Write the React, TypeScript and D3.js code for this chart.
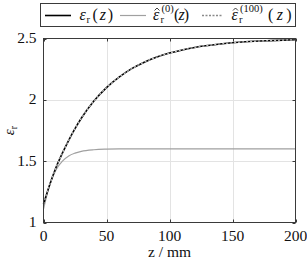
import * as d3 from "d3";

// sample positions along z (mm) and curve values
const zValues = [0, 5, 10, 15, 20, 25, 30, 40, 50, 60, 70, 80, 90, 100, 120, 140, 160, 180, 200];
const epsTrue = [1.15, 1.31, 1.45, 1.565, 1.67, 1.765, 1.85, 1.99, 2.1, 2.185, 2.254, 2.307, 2.349, 2.381, 2.427, 2.455, 2.473, 2.483, 2.49];
const epsIter0 = [1.11, 1.31, 1.43, 1.5, 1.543, 1.566, 1.58, 1.593, 1.598, 1.6, 1.6, 1.6, 1.6, 1.6, 1.6, 1.6, 1.6, 1.6, 1.6];
const epsIter100 = [1.15, 1.31, 1.45, 1.565, 1.67, 1.765, 1.85, 1.99, 2.1, 2.185, 2.254, 2.307, 2.349, 2.381, 2.427, 2.455, 2.473, 2.483, 2.49];

const xTicks = [0, 50, 100, 150, 200];
const yTicks = [1, 1.5, 2, 2.5];
const legendSups = ["", "(0)", "(100)"];

const FAMILY = '"Liberation Serif", "DejaVu Serif"';
const TS = { fontFamily: FAMILY };
const INK = "#111";

const width = 307;
const height = 263;
const left = 43.5;
const right = 295.5;
const top = 38.5;
const bottom = 222.5;

const x = d3.scaleLinear().domain([0, 200]).range([left, right]);
const y = d3.scaleLinear().domain([1, 2.5]).range([bottom, top]);

const line = d3
  .line<[number, number]>()
  .x((d) => x(d[0]))
  .y((d) => y(d[1]))
  .curve(d3.curveMonotoneX);
const pts = (vals: number[]) => zValues.map((z, i) => [z, vals[i]] as [number, number]);

const legendItems = [
  { x1: 45, x2: 71, ex: 79.5, subX: 86.5, px: 92.5, pw: 20.5, color: "black", w: 1.6, dash: undefined as string | undefined, hat: false },
  { x1: 120, x2: 146, ex: 153, subX: 160.5, px: 174, pw: 15, color: "#a0a0a0", w: 1.2, dash: undefined, hat: true },
  { x1: 202, x2: 223, ex: 231.5, subX: 239, px: 268, pw: 23.5, color: "#8a8a8a", w: 1.3, dash: "2,1.5", hat: true },
];

const px = (v: number) => Math.round(x(v)) + 0.5;
const py = (v: number) => Math.round(y(v)) + 0.5;

export default function App() {
  return (
    <svg width={width} height={height} style={{ position: "absolute", left: 0, top: 0, display: "block" }}>
      <style>{`svg text, svg tspan { font-family: "Liberation Serif", "DejaVu Serif" !important; }`}</style>
      <rect width={width} height={height} fill="white" />

      {/* grid */}
      <g stroke="#e3e3e3" strokeWidth={1}>
        {xTicks.slice(1, -1).map((t) => (
          <line key={`gx${t}`} x1={px(t)} x2={px(t)} y1={top} y2={bottom} />
        ))}
        {yTicks.slice(1, -1).map((t) => (
          <line key={`gy${t}`} x1={left} x2={right} y1={py(t)} y2={py(t)} />
        ))}
      </g>

      {/* curves */}
      <path d={line(pts(epsIter0)) ?? ""} fill="none" stroke="#a0a0a0" strokeWidth={1.2} />
      <path d={line(pts(epsTrue)) ?? ""} fill="none" stroke="black" strokeWidth={1.6} />
      <path d={line(pts(epsIter100)) ?? ""} fill="none" stroke="#c4c4c4" strokeWidth={1.2} strokeDasharray="2,2" />

      {/* axes box with inward ticks */}
      <g stroke="#3a3a3a" strokeWidth={1} fill="none">
        <rect x={left} y={top} width={right - left} height={bottom - top} />
        {xTicks.map((t) => (
          <g key={`tx${t}`}>
            <line x1={px(t)} x2={px(t)} y1={bottom} y2={bottom - 3} />
            <line x1={px(t)} x2={px(t)} y1={top} y2={top + 3} />
          </g>
        ))}
        {yTicks.map((t) => (
          <g key={`ty${t}`}>
            <line x1={left} x2={left + 3} y1={py(t)} y2={py(t)} />
            <line x1={right} x2={right - 3} y1={py(t)} y2={py(t)} />
          </g>
        ))}
      </g>

      {/* tick labels */}
      {xTicks.map((t) => (
        <text key={`lx${t}`} x={x(t)} y={241} textAnchor="middle" fontSize={15.5} fill={INK} style={TS}>
          {String(t)}
        </text>
      ))}
      {yTicks.map((t) => (
        <text key={`ly${t}`} x={36.5} y={y(t) + 4.5} textAnchor="end" fontSize={15.5} fill={INK} style={TS}>
          {String(t)}
        </text>
      ))}

      {/* axis titles */}
      <text x={(left + right) / 2} y={257} textAnchor="middle" fontSize={15.5} fill={INK} style={TS}>
        z / mm
      </text>
      <text
        transform={`translate(13.5,${(top + bottom) / 2}) rotate(-90)`}
        textAnchor="middle"
        fontSize={15}
        fill={INK}
        style={TS}
      >
        <tspan fontStyle="italic">ε</tspan>
        <tspan fontSize={10} dy={3}>
          r
        </tspan>
      </text>

      {/* legend */}
      <rect x={40.5} y={3.5} width={255} height={23} fill="white" stroke="#3a3a3a" />
      {legendItems.map((it, i) => (
        <g key={`lg${i}`}>
          <line
            x1={it.x1}
            x2={it.x2}
            y1={15.5}
            y2={15.5}
            stroke={it.color}
            strokeWidth={it.w}
            strokeDasharray={it.dash}
          />
          <text x={it.ex} y={20} fontSize={16} fontStyle="italic" fill={INK} style={TS}>
            ε
          </text>
          {it.hat && (
            <path
              d={`M${it.ex + 1.5},10.5 L${it.ex + 4},8 L${it.ex + 6.5},10.5`}
              fill="none"
              stroke={INK}
              strokeWidth={0.8}
            />
          )}
          <text x={it.subX} y={23} fontSize={10.5} fill={INK} style={TS}>
            r
          </text>
          {legendSups[i] && (
            <text x={it.subX + 1} y={12} fontSize={10.5} fill={INK} style={TS}>
              {legendSups[i]}
            </text>
          )}
          <text x={it.px} y={20} fontSize={16} fill={INK} textLength={it.pw} lengthAdjust="spacing" style={TS}>
            (<tspan fontStyle="italic">z</tspan>)
          </text>
        </g>
      ))}
    </svg>
  );
}
